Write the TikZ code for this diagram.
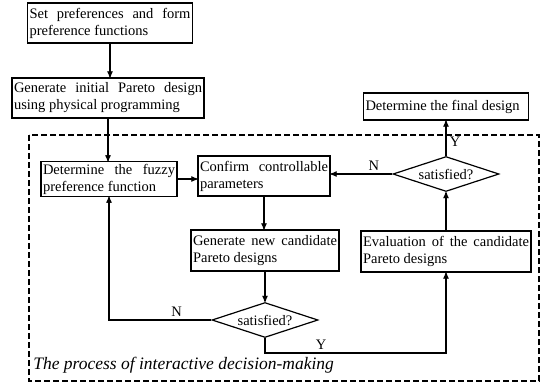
\documentclass[tikz,border=0pt]{standalone}
\usepackage{fontspec}
\setmainfont{Liberation Serif}
\usetikzlibrary{arrows,positioning,shapes.geometric}
\newcommand\boxfont{\fontsize{14.5}{17}\selectfont\hyphenpenalty10000\relax}

\begin{document}
\begin{tikzpicture}[x=1pt,y=-1pt,>=stealth', semithick,
        process/.style={draw=black,line width=1.2pt,inner sep=2pt,align=justify,font=\boxfont},
        decision/.style={diamond,draw=black,line width=1.2pt,inner sep=0pt,aspect=3,minimum width=106pt,minimum height=35pt,font=\boxfont},
        flow/.style={line width=1.2pt,->},
        lbl/.style={font=\boxfont}]
        \useasboundingbox (0,0) rectangle (541,384);
        \draw[line width=1.2pt,dash pattern=on 6pt off 3pt] (29,135) rectangle (539,381);
        \node[process,text width=161pt,minimum height=40pt] at (110,23) (pref) {Set preferences and form preference functions};
        \node[process,text width=188pt,minimum height=40pt] at (108,98) (init) {Generate initial Pareto design using physical programming};
        \node[process,text width=132pt,minimum height=32pt] at (109,179) (fuzzy) {Determine the fuzzy preference function};
        \node[process,text width=128pt,minimum height=40pt] at (264,176) (confirm) {Confirm controllable parameters};
        \node[process,text width=144pt,minimum height=41pt] at (265,250.5) (gen) {Generate new candidate Pareto designs};
        \node[decision] at (265,320) (sat2) {satisfied?};
        \node[process,text width=166pt,minimum height=41pt] at (446,251.5) (eval) {Evaluation of the candidate Pareto designs};
        \node[decision] at (446,174) (sat1) {satisfied?};
        \node[process,text width=161pt,minimum height=27pt] at (446,106.5) (final) {Determine the final design};
        \node[font=\fontsize{17.5}{19}\selectfont\itshape,anchor=west,inner sep=0pt] at (33,365) (caption) {The process of interactive decision-making};
        \coordinate (ybend) at (265,353);
        \draw[flow] (pref.south) -- (pref.south |- init.north);
        \draw[flow] (init.south) -- (init.south |- fuzzy.north);
        \draw[flow] (fuzzy.east) -- (fuzzy.east -| confirm.west);
        \draw[flow] (confirm.south) -- (confirm.south |- gen.north);
        \draw[flow] (gen) -- (sat2);
        \draw[flow] (sat2.west) -| node[lbl,above,pos=0.17] {N} (fuzzy.south);
        \draw[flow] (sat2.south) -- (ybend) -| node[lbl,above,pos=0.155] {Y} (eval.south);
        \draw[flow] (eval) -- (sat1);
        \draw[flow] (sat1) -- node[lbl,right,pos=0.4] {Y} (final);
        \draw[flow] (sat1.west) -- node[lbl,above,pos=0.3] {N} (sat1.west -| confirm.east);
      \end{tikzpicture}
\end{document}
